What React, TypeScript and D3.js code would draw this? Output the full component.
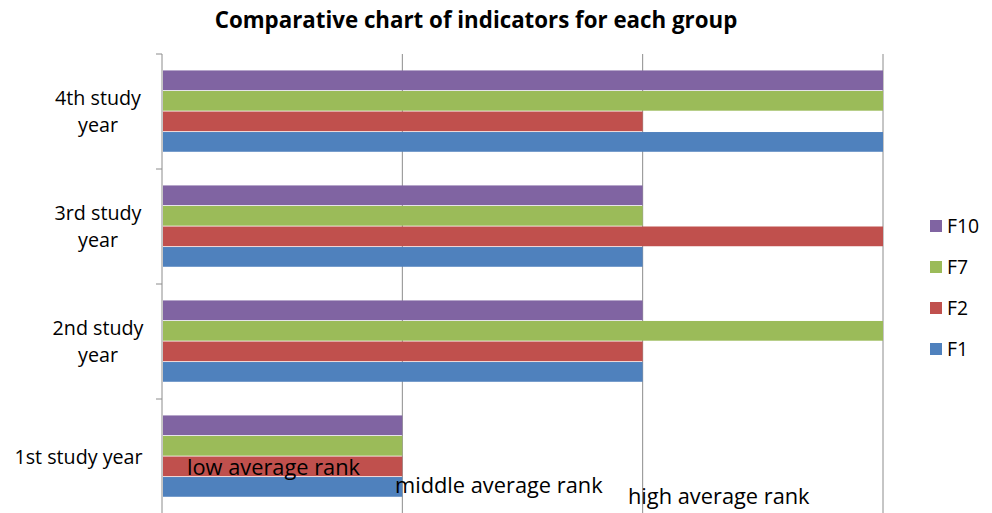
import React from "react";
import * as d3 from "d3";

const categories = ["1st study year", "2nd study year", "3rd study year", "4th study year"];
const categoryLines = [["1st study year"], ["2nd study", "year"], ["3rd study", "year"], ["4th study", "year"]];
const seriesNames = ["F1", "F2", "F7", "F10"];
const seriesColors = ["#4F81BD", "#C0504D", "#9BBB59", "#8064A2"];
const F1 = [1, 2, 2, 3];
const F2 = [1, 2, 3, 2];
const F7 = [1, 3, 2, 3];
const F10 = [1, 2, 2, 3];
const seriesValues = [F1, F2, F7, F10];
const rankLabels = ["low average rank", "middle average rank", "high average rank"];

const W = 992;
const H = 513;
const left = 162;
const right = 883;
const top = 54;
const bottom = 514;
const font = "'Open Sans', sans-serif";

export default function App() {
  const x = d3.scaleLinear().domain([0, 3]).range([left, right]);
  const y = d3.scaleBand().domain([...categories].reverse()).range([top, bottom]).paddingInner(0).paddingOuter(0);
  const inner = d3.scaleBand().domain([...seriesNames].reverse()).range([0, y.bandwidth()]).paddingOuter(0.8).paddingInner(0);
  const legendY = d3.scalePoint().domain([...seriesNames].reverse()).range([226, 349]);

  const rankPos = [
    { x: 360, y: 475, anchor: "end" },
    { x: 395, y: 493, anchor: "start" },
    { x: 628, y: 504, anchor: "start" },
  ];

  return (
    <svg width={W} height={H} style={{ position: "absolute", left: 0, top: 0, background: "#fff" }} fontFamily={font}>
      <rect x={0} y={0} width={W} height={H} fill="#fff" />
      <text x={476} y={28} textAnchor="middle" fontWeight="bold" fontSize={22.3} fill="#000">
        Comparative chart of indicators for each group
      </text>
      {x.ticks(3).filter((t) => t > 0).map((t) => (
        <line key={t} x1={x(t)} x2={x(t)} y1={top} y2={bottom} stroke="#8c8c8c" strokeWidth={1} />
      ))}
      {seriesNames.map((s, si) =>
        categories.map((c, ci) => (
          <rect
            key={s + c}
            x={x(0) + 1}
            y={(y(c) as number) + (inner(s) as number)}
            width={x(seriesValues[si][ci]) - x(0) - 1}
            height={inner.bandwidth() - 0.8}
            fill={seriesColors[si]}
          />
        ))
      )}
      <line x1={left} x2={left} y1={top} y2={bottom} stroke="#8c8c8c" />
      {categories.map((c) => (
        <line key={c} x1={left - 6} x2={left} y1={y(c) as number} y2={y(c) as number} stroke="#8c8c8c" />
      ))}
      {categories.map((c, ci) => {
        const lines = categoryLines[ci];
        const cy = (y(c) as number) + y.bandwidth() / 2;
        return (
          <text key={c} textAnchor="middle" fontSize={19.7} fill="#000">
            {lines.map((l, li) => (
              <tspan key={li} x={lines.length > 1 ? 98 : 78.5} y={cy + (li - (lines.length - 1) / 2) * 27 + 7}>
                {l}
              </tspan>
            ))}
          </text>
        );
      })}
      {rankLabels.map((r, i) => (
        <text key={r} x={rankPos[i].x} y={rankPos[i].y} textAnchor={rankPos[i].anchor as any} fontSize={21.8} fill="#000">
          {r}
        </text>
      ))}
      {[...seriesNames].reverse().map((s) => {
        const si = seriesNames.indexOf(s);
        const ly = legendY(s) as number;
        return (
          <g key={s}>
            <rect x={930} y={ly - 6} width={12} height={12} fill={seriesColors[si]} />
            <text x={947} y={ly + 7} fontSize={19.4} fill="#000">
              {s}
            </text>
          </g>
        );
      })}
    </svg>
  );
}
